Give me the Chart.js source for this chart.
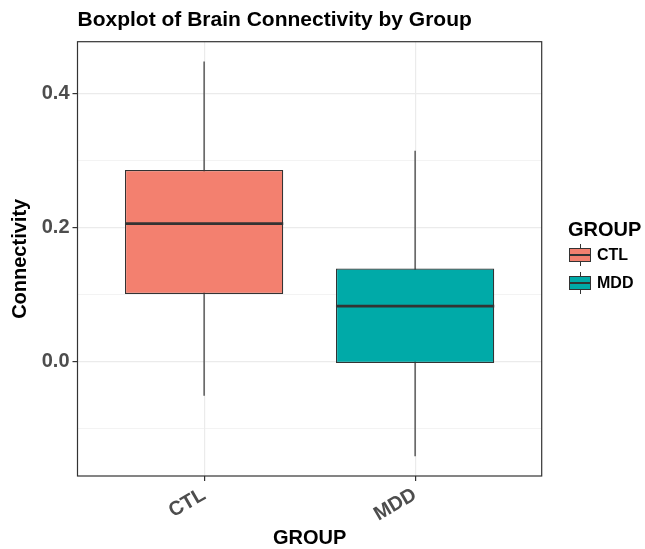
<!DOCTYPE html>
<html lang="en">
<head>
    <meta charset="UTF-8">
    <title>Boxplot of Brain Connectivity by Group</title>
    <script src="https://cdn.jsdelivr.net/npm/chart.js"></script>
    <style>
        body {
            margin: 0;
            padding: 0;
            background: #fff;
            font-family: "Liberation Sans", Arial, sans-serif;
        }
        .wrap {
            position: relative;
            width: 645px;
            height: 549px;
        }
        .legend {
            position: absolute;
            left: 568px;
            top: 217px;
        }
        .legend-title {
            font-weight: bold;
            font-size: 20px;
            line-height: 24px;
            color: #000;
        }
        .legend-item {
            display: flex;
            align-items: center;
            height: 28px;
        }
        .glyph {
            position: relative;
            width: 22px;
            height: 22px;
            margin-left: 1px;
            margin-right: 6px;
        }
        .glyph .whisker {
            position: absolute;
            left: 10.5px;
            top: 0;
            width: 1px;
            height: 22px;
            background: #333;
        }
        .glyph .box {
            position: absolute;
            left: 0;
            top: 4px;
            width: 20px;
            height: 12px;
            border: 1px solid #333;
        }
        .glyph .median {
            position: absolute;
            left: 0;
            top: 9.5px;
            width: 22px;
            height: 2px;
            background: #333;
        }
        .legend-label {
            font-weight: bold;
            font-size: 16px;
            color: #000;
        }
    </style>
</head>
<body>
    <div class="wrap">
        <canvas id="chart"></canvas>
        <div class="legend" id="legend"></div>
    </div>

    <script>
        // values
        const categories = ['CTL', 'MDD'];
        const whiskerLow = [-0.051, -0.141];
        const q1 = [0.101, -0.002];
        const medians = [0.206, 0.083];
        const q3 = [0.286, 0.139];
        const whiskerHigh = [0.448, 0.315];
        const fillColors = ['#f3806f', '#00aaa8'];
        const yMajorTicks = [0.0, 0.2, 0.4];
        const yMinorTicks = [-0.1, 0.1, 0.3];
        const yRange = [-0.1706, 0.4776];

        const FONT = '"Liberation Sans", Arial, sans-serif';

        // median line + panel border
        const boxExtras = {
            id: 'boxExtras',
            afterDatasetsDraw(chart) {
                const ctx = chart.ctx;
                const yScale = chart.scales.y;
                const meta = chart.getDatasetMeta(0);
                ctx.save();
                ctx.strokeStyle = '#333';
                ctx.lineWidth = 2.6;
                meta.data.forEach((bar, i) => {
                    const { x, width } = bar.getProps(['x', 'width'], true);
                    const py = yScale.getPixelForValue(medians[i]);
                    ctx.beginPath();
                    ctx.moveTo(x - width / 2, py);
                    ctx.lineTo(x + width / 2, py);
                    ctx.stroke();
                });
                const a = chart.chartArea;
                ctx.lineWidth = 1.2;
                ctx.strokeRect(a.left, a.top, a.right - a.left, a.bottom - a.top);
                ctx.restore();
            }
        };

        const isMinor = v => yMinorTicks.some(m => Math.abs(m - v) < 1e-9);

        new Chart(document.getElementById('chart'), {
            type: 'bar',
            data: {
                datasets: [
                    {
                        label: 'box',
                        data: categories.map((c, i) => ({ x: i + 1, y: [q1[i], q3[i]] })),
                        backgroundColor: fillColors,
                        borderColor: '#333',
                        borderWidth: 1.2,
                        borderSkipped: false,
                        grouped: false,
                        categoryPercentage: 1,
                        barPercentage: 0.75
                    },
                    {
                        label: 'whisker',
                        data: categories.map((c, i) => ({ x: i + 1, y: [whiskerLow[i], whiskerHigh[i]] })),
                        backgroundColor: '#333',
                        borderWidth: 0,
                        grouped: false,
                        maxBarThickness: 1.2
                    }
                ]
            },
            options: {
                responsive: true,
                maintainAspectRatio: false,
                animation: false,
                layout: { padding: { left: 0, right: 103.3, top: 0, bottom: 0 } },
                plugins: {
                    legend: { display: false },
                    tooltip: { enabled: false },
                    title: {
                        display: true,
                        text: 'Boxplot of Brain Connectivity by Group',
                        align: 'start',
                        fullSize: false,
                        color: '#000',
                        font: { family: FONT, size: 21, weight: 'bold', lineHeight: 1.2 },
                        padding: { top: 8, bottom: 8.5 }
                    }
                },
                scales: {
                    x: {
                        type: 'linear',
                        min: 0.4,
                        max: 2.6,
                        offset: false,
                        afterBuildTicks: scale => {
                            scale.ticks = categories.map((c, i) => ({ value: i + 1 }));
                        },
                        afterFit: scale => { scale.height = 73; },
                        ticks: {
                            callback: v => categories[Math.round(v) - 1],
                            minRotation: 30,
                            maxRotation: 30,
                            padding: 2,
                            color: '#4d4d4d',
                            font: { family: FONT, size: 20, weight: 'bold' }
                        },
                        grid: {
                            offset: false,
                            color: '#ebebeb',
                            lineWidth: 1.2,
                            tickLength: 5,
                            tickColor: '#333',
                            tickWidth: 1.2
                        },
                        border: { display: false },
                        title: {
                            display: true,
                            text: 'GROUP',
                            color: '#000',
                            font: { family: FONT, size: 20, weight: 'bold', lineHeight: 1 },
                            padding: { top: 0, bottom: 1 }
                        }
                    },
                    y: {
                        min: yRange[0],
                        max: yRange[1],
                        afterBuildTicks: scale => {
                            scale.ticks = yMajorTicks.concat(yMinorTicks)
                                .sort((a, b) => a - b)
                                .map(v => ({ value: v }));
                        },
                        afterFit: scale => { scale.width = 77.5; },
                        ticks: {
                            callback: v => isMinor(v) ? '' : v.toFixed(1),
                            padding: 3,
                            color: '#4d4d4d',
                            font: { family: FONT, size: 20, weight: 'bold' }
                        },
                        grid: {
                            color: '#ebebeb',
                            lineWidth: ctx => isMinor(ctx.tick.value) ? 0.6 : 1.2,
                            tickLength: 5,
                            tickColor: ctx => isMinor(ctx.tick.value) ? 'rgba(0,0,0,0)' : '#333',
                            tickWidth: 1.2
                        },
                        border: { display: false },
                        title: {
                            display: true,
                            text: 'Connectivity',
                            color: '#000',
                            font: { family: FONT, size: 20, weight: 'bold', lineHeight: 1 },
                            padding: { top: 10, bottom: 0 }
                        }
                    }
                }
            },
            plugins: [boxExtras]
        });

        // legend built from the same arrays
        const legend = document.getElementById('legend');
        legend.innerHTML = '<div class="legend-title">GROUP</div>' +
            categories.map((c, i) => `
                <div class="legend-item">
                    <div class="glyph">
                        <div class="whisker"></div>
                        <div class="box" style="background:${fillColors[i]}"></div>
                        <div class="median"></div>
                    </div>
                    <span class="legend-label">${c}</span>
                </div>`).join('');
    </script>
</body>
</html>
